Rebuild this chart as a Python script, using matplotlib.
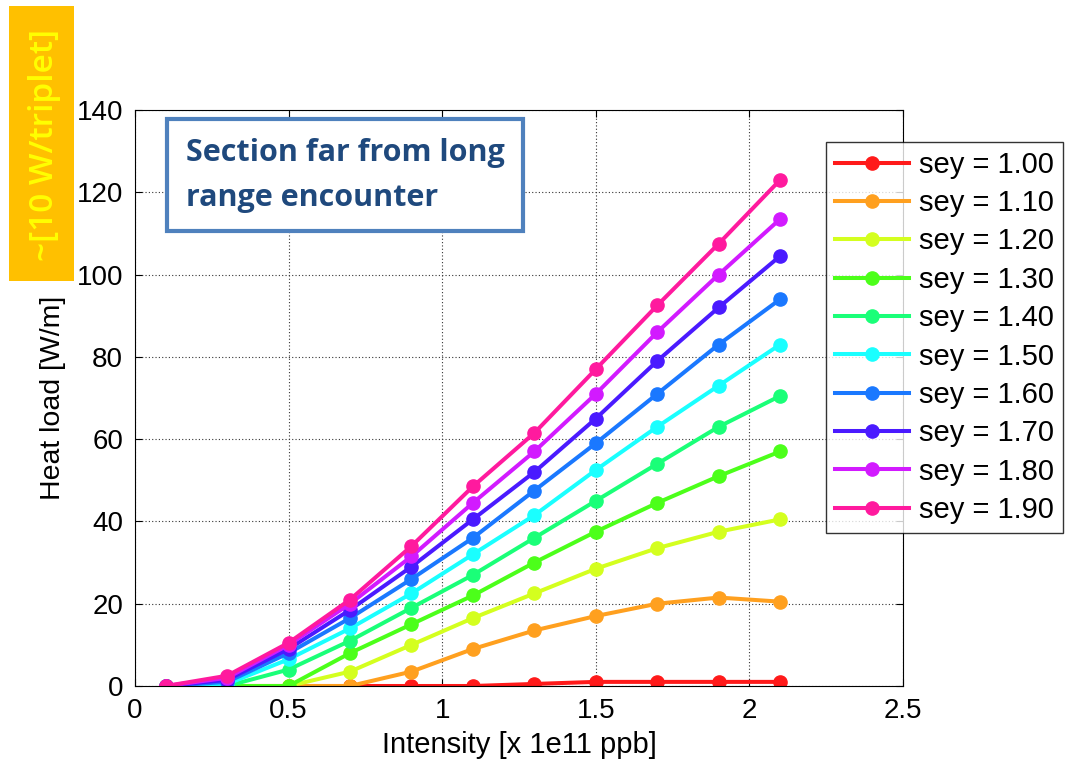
import matplotlib
matplotlib.use("Agg")
import matplotlib.pyplot as plt
from matplotlib.patches import Rectangle

intensity = [0.1, 0.3, 0.5, 0.7, 0.9, 1.1, 1.3, 1.5, 1.7, 1.9, 2.1]
sey_labels = ["sey = 1.00", "sey = 1.10", "sey = 1.20", "sey = 1.30", "sey = 1.40",
              "sey = 1.50", "sey = 1.60", "sey = 1.70", "sey = 1.80", "sey = 1.90"]
sey_100 = [0, 0, 0, 0, 0, 0, 0.5, 1, 1, 1, 1]
sey_110 = [0, 0, 0, 0, 3.5, 9, 13.5, 17, 20, 21.5, 20.5]
sey_120 = [0, 0, 0, 3.5, 10, 16.5, 22.5, 28.5, 33.5, 37.5, 40.5]
sey_130 = [0, 0, 0, 8, 15, 22, 30, 37.5, 44.5, 51, 57]
sey_140 = [0, 0, 4, 11, 19, 27, 36, 45, 54, 63, 70.5]
sey_150 = [0, 0.5, 6.5, 14, 22.5, 32, 41.5, 52.5, 63, 73, 83]
sey_160 = [0, 1, 8, 16.5, 26, 36, 47.5, 59, 71, 83, 94]
sey_170 = [0, 1.5, 9, 18.5, 29, 40.5, 52, 65, 79, 92, 104.5]
sey_180 = [0, 2, 10, 20, 31.5, 44.5, 57, 71, 86, 100, 113.5]
sey_190 = [0, 2.5, 10.5, 21, 34, 48.5, 61.5, 77, 92.5, 107.5, 123]
series = [sey_100, sey_110, sey_120, sey_130, sey_140,
          sey_150, sey_160, sey_170, sey_180, sey_190]
colors = ["#ff1a1a", "#ffa01f", "#d4ff1f", "#4cff1a", "#1aff78",
          "#1affff", "#1a78ff", "#4a1aff", "#d21aff", "#ff1a9e"]

W, H = 1085, 771
fig = plt.figure(figsize=(W / 100, H / 100), dpi=100)
ax = fig.add_axes([135 / W, 1 - 686 / H, (903 - 135) / W, (686 - 110) / H])

handles = []
for vals, c, lab in zip(series, colors, sey_labels):
    h, = ax.plot(intensity, vals, '-o', color=c, lw=2.9, ms=9.5, label=lab)
    handles.append(h)

ax.set_xlim(0, 2.5)
ax.set_ylim(0, 140)
ax.set_xticks([0, 0.5, 1, 1.5, 2, 2.5])
ax.set_xticklabels(["0", "0.5", "1", "1.5", "2", "2.5"])
ax.set_yticks(range(0, 141, 20))
ax.grid(True, color="#333333", linestyle=(0, (1, 2)), linewidth=0.8)
ax.tick_params(direction='in', top=True, right=True, labelsize=20, length=5, pad=8.5)
for lab in ax.get_xticklabels() + ax.get_yticklabels():
    lab.set_family("Liberation Sans")
ax.set_xlabel("Intensity [x 1e11 ppb]", fontsize=21, family="Liberation Sans", labelpad=5)
ax.set_ylabel("Heat load [W/m]", fontsize=20.5, family="Liberation Sans", labelpad=8)

leg = fig.legend(handles=handles, loc='upper left',
                 bbox_to_anchor=(826 / W, 1 - 142 / H),
                 prop={"family": "Liberation Sans", "size": 21},
                 frameon=True, fancybox=False, edgecolor="black",
                 handlelength=2.55, handletextpad=0.35, labelspacing=0.355,
                 borderpad=0.3, borderaxespad=0)
leg.get_frame().set_linewidth(1.0)

ax.text(0.066, 0.952, "Section far from long\nrange encounter",
        transform=ax.transAxes, ha='left', va='top', fontsize=22,
        family="Open Sans", weight="bold", color="#1f497d", linespacing=1.66,
        bbox=dict(boxstyle="square,pad=0.6", fc="white", ec="#4f81bd", lw=3))

fig.patches.append(Rectangle((9 / W, 1 - 281 / H), 65 / W, 275 / H,
                             transform=fig.transFigure, fc="#ffc000", ec="none"))
fig.text(45 / W, 1 - 145 / H, "~[10 W/triplet]", rotation=90, ha='center', va='center',
         fontsize=24, family="Open Sans", weight="semibold", color="#ffff00")

fig.savefig("out.png", dpi=100)
